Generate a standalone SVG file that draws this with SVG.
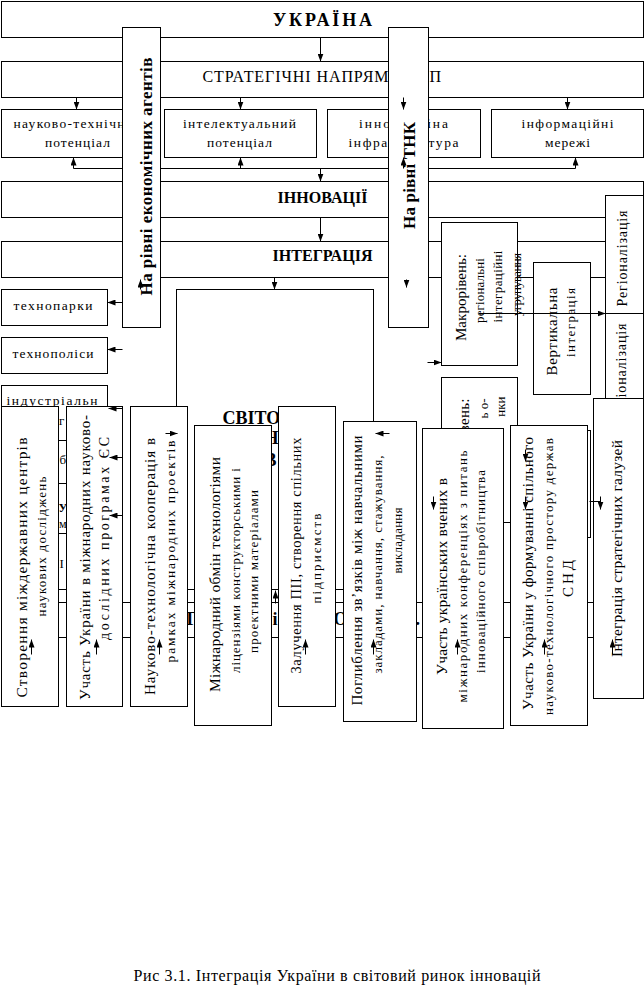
<svg xmlns="http://www.w3.org/2000/svg" width="644" height="997" viewBox="0 0 644 997">
<style>
.bx{fill:#fff;stroke:#000;stroke-width:1}
.t{font-family:"Liberation Serif","Times New Roman",serif;fill:#000}
.b{font-weight:bold}
.cn{fill:none;stroke:#000;stroke-width:1}
.ar{fill:none;stroke:#000;stroke-width:1;marker-end:url(#ah)}
</style>
<defs>
<marker id="ah" viewBox="0 0 8 6" refX="8" refY="3" markerWidth="8" markerHeight="6" markerUnits="userSpaceOnUse" orient="auto"><path d="M0,0 L8,3 L0,6 z" fill="#000"/></marker>
</defs>
<rect x="0" y="0" width="644" height="997" fill="#fff"/>
<g transform="translate(0.5 0.5)">
<g id="ukraina"><rect class="bx" x="1" y="1" width="642" height="36"/><text class="t b" x="322" y="25" font-size="18" text-anchor="middle" textLength="99" lengthAdjust="spacing">УКРАЇНА</text></g>
<g id="strateg"><rect class="bx" x="1" y="61" width="642" height="36"/><text class="t" x="202" y="81" font-size="16" textLength="186" lengthAdjust="spacing">СТРАТЕГІЧНІ НАПРЯМ</text><text class="t" x="429" y="81" font-size="16">П</text></g>
<g id="nauk-tekh"><rect class="bx" x="1" y="109" width="156" height="48"/><text class="t" x="77" y="127" font-size="13.5" text-anchor="middle" textLength="128" lengthAdjust="spacing">науково-технічний</text><text class="t" x="77" y="146" font-size="13.5" text-anchor="middle" textLength="65" lengthAdjust="spacing">потенціал</text></g>
<g id="intelekt"><rect class="bx" x="164" y="109" width="152" height="48"/><text class="t" x="239" y="127" font-size="13.5" text-anchor="middle" textLength="113" lengthAdjust="spacing">інтелектуальний</text><text class="t" x="239" y="146" font-size="13.5" text-anchor="middle" textLength="65" lengthAdjust="spacing">потенціал</text></g>
<g id="innov-infra"><rect class="bx" x="327" y="109" width="153" height="48"/><text class="t" x="403" y="127" font-size="13.5" text-anchor="middle" textLength="89" lengthAdjust="spacing">інноваційна</text><text class="t" x="403" y="146" font-size="13.5" text-anchor="middle" textLength="110" lengthAdjust="spacing">інфраструктура</text></g>
<g id="inform"><rect class="bx" x="491" y="109" width="152" height="48"/><text class="t" x="567" y="127" font-size="13.5" text-anchor="middle" textLength="92" lengthAdjust="spacing">інформаційні</text><text class="t" x="567" y="146" font-size="13.5" text-anchor="middle" textLength="45" lengthAdjust="spacing">мережі</text></g>
<g id="innovatsii"><rect class="bx" x="1" y="181" width="642" height="36"/><text class="t b" x="322" y="202" font-size="17" text-anchor="middle" textLength="90" lengthAdjust="spacingAndGlyphs">ІННОВАЦІЇ</text></g>
<g id="intehratsiia"><rect class="bx" x="1" y="241" width="642" height="36"/><text class="t b" x="322" y="260" font-size="17" text-anchor="middle" textLength="100" lengthAdjust="spacingAndGlyphs">ІНТЕГРАЦІЯ</text></g>
<g id="band-bottom"><rect class="bx" x="1" y="602" width="642" height="35"/><text class="t b" x="186" y="624" font-size="18">Г</text><text class="t b" x="272" y="624" font-size="18">і</text><text class="t b" x="333" y="624" font-size="18">О</text><text class="t b" x="415" y="624" font-size="18">.</text></g>
<g id="tekhnoparky"><rect class="bx" x="1" y="289" width="106" height="36"/><text class="t" x="13" y="309" font-size="13.5" textLength="79" lengthAdjust="spacing">технопарки</text></g>
<g id="tekhnopolisy"><rect class="bx" x="1" y="337" width="106" height="36"/><text class="t" x="12" y="357" font-size="13.5" textLength="81" lengthAdjust="spacing">технополіси</text></g>
<g id="industr"><rect class="bx" x="1" y="385" width="106" height="55"/><text class="t" x="6" y="404" font-size="13.5" textLength="91" lengthAdjust="spacing">індустріальн</text><text class="t" x="58.5" y="424" font-size="13">г</text></g>
<g id="left4"><rect class="bx" x="1" y="440" width="106" height="43"/><text class="t" x="59" y="463" font-size="13">б</text></g>
<g id="left5"><rect class="bx" x="1" y="483" width="106" height="50"/><text class="t b" x="58" y="511" font-size="12">У</text><text class="t" x="58.5" y="527" font-size="12">м</text></g>
<g id="left6"><rect class="bx" x="1" y="533" width="106" height="56"/><text class="t" x="59" y="567" font-size="13">І</text></g>
<g id="svitovyi"><rect class="bx" x="176" y="289" width="197" height="300"/><text class="t b" x="222" y="423" font-size="18">СВІТОВИЙ</text><text class="t b" x="264" y="443" font-size="18">Н</text><text class="t b" x="264" y="465" font-size="18">В</text></g>
<g id="conn-under">
<path class="ar" d="M320 37V61"/>
<path class="ar" d="M76 97V109"/><path class="ar" d="M240 97V109"/><path class="ar" d="M567 97V109"/>
<path class="cn" d="M73 168H575"/>
<path class="ar" d="M73 168V157"/><path class="ar" d="M240 168V157"/><path class="ar" d="M575 168V157"/>
<path class="ar" d="M320 168V181"/>
<path class="ar" d="M320 217V241"/>
<path class="ar" d="M274 277V289"/>
<path class="ar" d="M122 302H107"/><path class="ar" d="M122 349H107"/>
<path class="ar" d="M427 362H441"/>
</g>
<g id="bar-agents"><rect class="bx" x="122" y="27" width="38" height="300"/><text class="t b" transform="translate(151.5 176) rotate(-90)" font-size="17" text-anchor="middle" textLength="238" lengthAdjust="spacing">На рівні  економічних агентів</text></g>
<g id="bar-tnk"><rect class="bx" x="388" y="27" width="40" height="300"/><text class="t b" transform="translate(414 175) rotate(-90)" font-size="17" text-anchor="middle" textLength="107" lengthAdjust="spacing">На рівні ТНК</text></g>
<g id="rehionalizatsiia"><rect class="bx" x="605" y="195" width="38" height="118"/><text class="t" transform="translate(626.5 258) rotate(-90)" font-size="14" text-anchor="middle" textLength="96" lengthAdjust="spacing">Регіоналізація</text></g>
<g id="ionalizatsiia"><rect class="bx" x="605" y="313" width="38" height="90"/><text class="t" transform="translate(625.5 360) rotate(-90)" font-size="14" text-anchor="middle" textLength="74" lengthAdjust="spacing">іоналізація</text></g>
<g id="makroriven"><rect class="bx" x="441" y="222" width="76" height="143"/>
<text class="t" transform="translate(465.5 297) rotate(-90)" font-size="15" text-anchor="middle" textLength="87" lengthAdjust="spacing">Макрорівень:</text>
<text class="t" transform="translate(483 290) rotate(-90)" font-size="13" text-anchor="middle" textLength="65" lengthAdjust="spacing">регіональні</text>
<text class="t" transform="translate(501 286) rotate(-90)" font-size="13" text-anchor="middle" textLength="72" lengthAdjust="spacing">інтеграційні</text>
<text class="t" transform="translate(520 284) rotate(-90)" font-size="13" text-anchor="middle" textLength="63" lengthAdjust="spacing">угрупування</text></g>
<g id="mikroriven"><rect class="bx" x="441" y="377" width="76" height="145"/>
<text class="t" transform="translate(468.5 398) rotate(-90)" font-size="15" text-anchor="end" textLength="87" lengthAdjust="spacing">Мікрорівень:</text>
<text class="t" transform="translate(487 398) rotate(-90)" font-size="13" text-anchor="end">ь о-</text>
<text class="t" transform="translate(504 396) rotate(-90)" font-size="13" text-anchor="end">нки</text></g>
<g id="vertykalna"><rect class="bx" x="533" y="262" width="57" height="132"/>
<text class="t" transform="translate(556.5 331) rotate(-90)" font-size="15" text-anchor="middle" textLength="88" lengthAdjust="spacing">Вертикальна</text>
<text class="t" transform="translate(574 322) rotate(-90)" font-size="13" text-anchor="middle" textLength="69" lengthAdjust="spacing">інтеграція</text></g>
<g id="hidden-box"><rect class="bx" x="513" y="430" width="77" height="107"/></g>
<g id="box-stvorennia"><rect class="bx" x="1" y="406" width="57" height="300"/>
<text class="t" transform="translate(26.5 567) rotate(-90)" font-size="15.5" text-anchor="middle" textLength="260" lengthAdjust="spacing">Створення міждержавних центрів</text>
<text class="t" transform="translate(45 546) rotate(-90)" font-size="13" text-anchor="middle" textLength="140" lengthAdjust="spacing">наукових досліджень</text></g>
<g id="box-uchast-es"><rect class="bx" x="66" y="406" width="56" height="300"/>
<text class="t" transform="translate(89.5 557) rotate(-90)" font-size="15" text-anchor="middle" textLength="285" lengthAdjust="spacing">Участь України в міжнародних науково-</text>
<text class="t" transform="translate(108.5 538) rotate(-90)" font-size="14" text-anchor="middle" textLength="203" lengthAdjust="spacing">дослідних програмах ЄС</text></g>
<g id="box-kooperatsiia"><rect class="bx" x="130" y="406" width="57" height="300"/>
<text class="t" transform="translate(154.5 566) rotate(-90)" font-size="15" text-anchor="middle" textLength="257" lengthAdjust="spacing">Науково-технологічна кооперація в</text>
<text class="t" transform="translate(174 551) rotate(-90)" font-size="13.5" text-anchor="middle" textLength="222" lengthAdjust="spacing">рамках міжнародних проектів</text></g>
<g id="box-obmin"><rect class="bx" x="194" y="425" width="77" height="300"/>
<text class="t" transform="translate(219.5 574) rotate(-90)" font-size="15.5" text-anchor="middle" textLength="235" lengthAdjust="spacing">Міжнародний обмін технологіями</text>
<text class="t" transform="translate(239 570) rotate(-90)" font-size="13" text-anchor="middle" textLength="205" lengthAdjust="spacing">ліцензіями конструкторськими і</text>
<text class="t" transform="translate(257 571) rotate(-90)" font-size="13" text-anchor="middle" textLength="163" lengthAdjust="spacing">проектними матеріалами</text></g>
<g id="box-pii"><rect class="bx" x="278" y="406" width="57" height="300"/>
<text class="t" transform="translate(300.5 555) rotate(-90)" font-size="14.5" text-anchor="middle" textLength="236" lengthAdjust="spacing">Залучення ПІІ, створення спільних</text>
<text class="t" transform="translate(320 558) rotate(-90)" font-size="13" text-anchor="middle" textLength="90" lengthAdjust="spacing">підприємств</text></g>
<g id="box-pohlyblennia"><rect class="bx" x="343" y="421" width="73" height="300"/>
<text class="t" transform="translate(361.5 570) rotate(-90)" font-size="15" text-anchor="middle" textLength="270" lengthAdjust="spacing">Поглиблення зв’язків між навчальними</text>
<text class="t" transform="translate(381 564) rotate(-90)" font-size="13" text-anchor="middle" textLength="218" lengthAdjust="spacing">закладами, навчання, стажування,</text>
<text class="t" transform="translate(401 540) rotate(-90)" font-size="13" text-anchor="middle" textLength="66" lengthAdjust="spacing">викладання</text></g>
<g id="box-vcheni"><rect class="bx" x="422" y="428" width="81" height="300"/>
<text class="t" transform="translate(446.5 576) rotate(-90)" font-size="15.5" text-anchor="middle" textLength="197" lengthAdjust="spacing">Участь українських вчених в</text>
<text class="t" transform="translate(466 576) rotate(-90)" font-size="13" text-anchor="middle" textLength="252" lengthAdjust="spacing">міжнародних конференціях з питань</text>
<text class="t" transform="translate(484 571) rotate(-90)" font-size="13" text-anchor="middle" textLength="203" lengthAdjust="spacing">інноваційного співробітництва</text></g>
<g id="box-snd"><rect class="bx" x="510" y="425" width="77" height="300"/>
<text class="t" transform="translate(532.5 573) rotate(-90)" font-size="15" text-anchor="middle" textLength="273" lengthAdjust="spacing">Участь України у формуванні спільного</text>
<text class="t" transform="translate(552 576) rotate(-90)" font-size="13" text-anchor="middle" textLength="277" lengthAdjust="spacing">науково-технологічного простору держав</text>
<text class="t" transform="translate(572.5 578) rotate(-90)" font-size="15" text-anchor="middle" textLength="37" lengthAdjust="spacing">СНД</text></g>
<g id="box-haluzi"><rect class="bx" x="593" y="398" width="50" height="300"/>
<text class="t" transform="translate(621.5 548) rotate(-90)" font-size="15.5" text-anchor="middle" textLength="217" lengthAdjust="spacing">Інтеграція стратегічних галузей</text></g>
<g id="conn-top">
<path class="ar" d="M403 97V109"/><path class="ar" d="M403 168V157"/>
<path class="ar" d="M140 289V279"/><path class="ar" d="M406 279V287"/>
<path class="ar" d="M478 313H605"/>
<path class="ar" d="M122 408H108"/><path class="ar" d="M122 457H109"/><path class="ar" d="M122 515H109"/>
<path class="ar" d="M165 433H177"/><path class="ar" d="M389 433H375"/>
<path class="ar" d="M31 654V639"/><path class="ar" d="M96 654V639"/><path class="ar" d="M159 654V639"/><path class="ar" d="M305 654V639"/><path class="ar" d="M373 654V639"/><path class="ar" d="M457 654V639"/><path class="ar" d="M544 654V639"/><path class="ar" d="M612 654V639"/>
<path class="ar" d="M275 603V590"/>
<path class="ar" d="M433 496V509"/><path class="ar" d="M525 449V461"/><path class="ar" d="M525 496V509"/><path class="ar" d="M600 496V509"/><path class="cn" d="M589 501H600"/>
</g>
<g id="caption"><text class="t" x="133" y="980" font-size="16" textLength="407" lengthAdjust="spacing">Рис 3.1. Інтеграція України в  світовий ринок інновацій</text></g>
</g>
</svg>
